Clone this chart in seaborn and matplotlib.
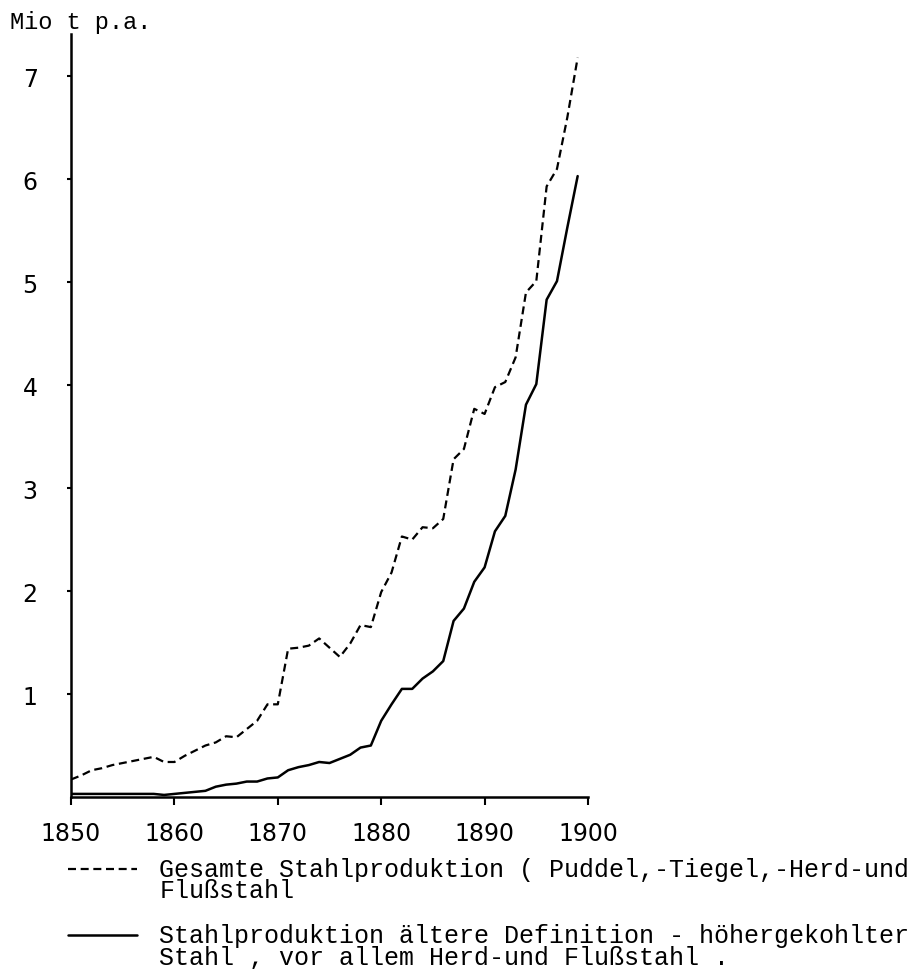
import matplotlib
matplotlib.use("Agg")
from matplotlib import pyplot as plt
from matplotlib.legend_handler import HandlerLine2D
import pandas as pd
import seaborn as sns

years = list(range(1850, 1900))
gesamt = [0.17, 0.21, 0.26, 0.28, 0.31, 0.33, 0.35, 0.37, 0.39, 0.34,
          0.34, 0.40, 0.45, 0.50, 0.53, 0.59, 0.58, 0.66, 0.74, 0.90,
          0.90, 1.44, 1.45, 1.47, 1.54, 1.45, 1.36, 1.49, 1.67, 1.65,
          1.99, 2.18, 2.53, 2.50, 2.62, 2.61, 2.70, 3.28, 3.38, 3.77,
          3.72, 3.98, 4.03, 4.27, 4.90, 5.01, 5.93, 6.10, 6.60, 7.18]
aeltere = [0.03, 0.03, 0.03, 0.03, 0.03, 0.03, 0.03, 0.03, 0.03, 0.02,
           0.03, 0.04, 0.05, 0.06, 0.10, 0.12, 0.13, 0.15, 0.15, 0.18,
           0.19, 0.26, 0.29, 0.31, 0.34, 0.33, 0.37, 0.41, 0.48, 0.50,
           0.74, 0.90, 1.05, 1.05, 1.15, 1.22, 1.32, 1.71, 1.83, 2.09,
           2.23, 2.58, 2.73, 3.18, 3.81, 4.01, 4.83, 5.01, 5.53, 6.03]
label_gesamt = "Gesamte Stahlproduktion ( Puddel,-Tiegel,-Herd-und\nFlußstahl"
label_aeltere = "Stahlproduktion ältere Definition - höhergekohlter\nStahl , vor allem Herd-und Flußstahl ."
xticks = [1850, 1860, 1870, 1880, 1890, 1900]
yticks = [1, 2, 3, 4, 5, 6, 7]

df = pd.DataFrame({"Jahr": years, "gesamt": gesamt, "aeltere": aeltere})

sns.set_style("ticks")
plt.rcParams["text.color"] = "black"
plt.rcParams["axes.edgecolor"] = "black"
plt.rcParams["xtick.color"] = "black"
plt.rcParams["ytick.color"] = "black"
mono = "Liberation Mono"


# legend line sits next to the first text line, not the middle of the block
class FirstLineHandler(HandlerLine2D):
    def create_artists(self, legend, orig_handle, xdescent, ydescent,
                       width, height, fontsize, trans):
        arts = super().create_artists(legend, orig_handle, xdescent, ydescent,
                                      width, height, fontsize, trans)
        for a in arts:
            a.set_ydata([y + 0.45 * fontsize for y in a.get_ydata()])
        return arts


fig = plt.figure(figsize=(9.15, 9.7), dpi=100)
ax = fig.add_axes([71 / 915, 1 - 798 / 970, 517 / 915, 763 / 970])

sns.lineplot(data=df, x="Jahr", y="gesamt", ax=ax, color="black", lw=1.6,
             linestyle=(0, (3.6, 2.1)), label=label_gesamt)
sns.lineplot(data=df, x="Jahr", y="aeltere", ax=ax, color="black", lw=1.8,
             label=label_aeltere)

ax.set_xlim(1850, 1900)
ax.set_ylim(0, 7.41)
ax.set_xticks(xticks)
ax.set_yticks(yticks)
ax.set_xlabel("")
ax.set_ylabel("")
sns.despine(ax=ax)
for s in ["left", "bottom"]:
    ax.spines[s].set_linewidth(1.8)
ax.tick_params(axis="y", length=3, width=1.5, pad=21, labelsize=17)
ax.tick_params(axis="x", length=6, width=1.5, pad=11, labelsize=17)

fig.text(10 / 915, 1 - 22 / 970, "Mio t p.a.", family=mono, fontsize=17,
         va="center", ha="left")

handles, labels = ax.get_legend_handles_labels()
ax.get_legend().remove()
leg = fig.legend(handles, labels, loc="upper left",
                 bbox_to_anchor=(68 / 915, 1 - 858 / 970), frameon=False,
                 borderpad=0, borderaxespad=0, handlelength=2.75,
                 handletextpad=0.9, labelspacing=0.85,
                 handler_map={h: FirstLineHandler() for h in handles},
                 prop={"family": mono, "size": 18})
for t in leg.get_texts():
    t.set_linespacing(0.85)

fig.savefig("out.png", dpi=100)
